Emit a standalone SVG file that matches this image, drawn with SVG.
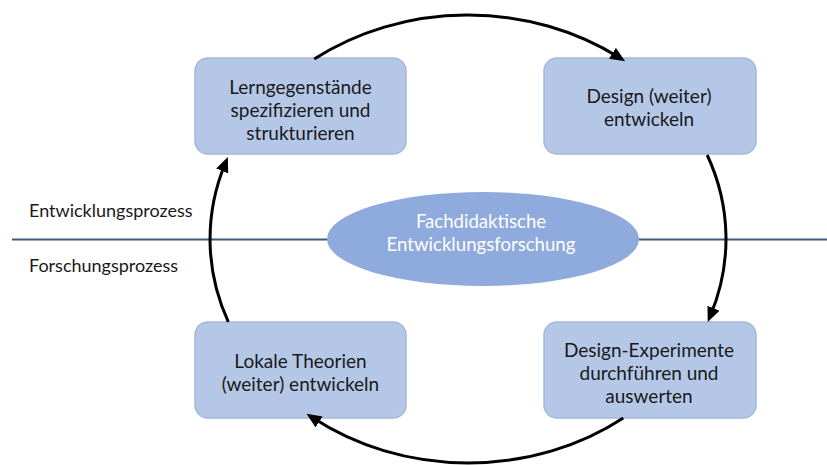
<svg xmlns="http://www.w3.org/2000/svg" width="827" height="465" viewBox="0 0 827 465">
<defs>
<style>
.box{fill:#B4C7E7;stroke:#A5B8DA;stroke-width:1.5}
.t{font-family:Lato,"Liberation Sans",sans-serif;font-size:19px;fill:#1a1a1a;text-anchor:middle}
.lbl{font-family:Lato,"Liberation Sans",sans-serif;font-size:18px;fill:#1a1a1a}
.w{font-family:Lato,"Liberation Sans",sans-serif;font-size:18.6px;fill:#ffffff;text-anchor:middle}
.arc{fill:none;stroke:#000;stroke-width:3}
</style>
<marker id="ah" markerUnits="userSpaceOnUse" markerWidth="16" markerHeight="14" refX="8" refY="6.5" orient="auto">
<path d="M0,0 L15,6.5 L0,13 z" fill="#000"/>
</marker>
</defs>
<rect width="827" height="465" fill="#fff"/>
<line x1="12" y1="239.5" x2="827" y2="239.5" stroke="#44587F" stroke-width="1.8"/>
<g id="labels">
<text class="lbl" x="29" y="217">Entwicklungsprozess</text>
<text class="lbl" x="29" y="272">Forschungsprozess</text>
</g>
<g id="center">
<ellipse cx="483" cy="239" rx="156" ry="47" fill="#8FAADC"/>
<text class="w" x="481" y="228">Fachdidaktische</text>
<text class="w" x="481" y="251">Entwicklungsforschung</text>
</g>
<g id="n1">
<rect class="box" x="195" y="58" width="211" height="96" rx="13"/>
<text class="t" x="300.5" y="94">Lerngegenstände</text>
<text class="t" x="300.5" y="117">spezifizieren und</text>
<text class="t" x="300.5" y="140">strukturieren</text>
</g>
<g id="n2">
<rect class="box" x="544" y="58" width="212" height="96" rx="13"/>
<text class="t" x="649" y="103">Design (weiter)</text>
<text class="t" x="649" y="126">entwickeln</text>
</g>
<g id="n3">
<rect class="box" x="544" y="322" width="212" height="96" rx="13"/>
<text class="t" x="649" y="357">Design-Experimente</text>
<text class="t" x="649" y="380">durchführen und</text>
<text class="t" x="649" y="403">auswerten</text>
</g>
<g id="n4">
<rect class="box" x="195" y="322" width="211" height="96" rx="13"/>
<text class="t" x="300.5" y="368">Lokale Theorien</text>
<text class="t" x="300.5" y="391">(weiter) entwickeln</text>
</g>
<g id="connectors">
<path class="arc" marker-end="url(#ah)" d="M314.2,59.1 A258,224 0 0 1 619.2,57.6"/>
<path class="arc" marker-end="url(#ah)" d="M707.2,155 A258,224 0 0 1 710.4,315.6"/>
<path class="arc" marker-end="url(#ah)" d="M623.3,417.9 A258,224 0 0 1 312.4,417.6"/>
<path class="arc" marker-end="url(#ah)" d="M228.3,321.9 A258,224 0 0 1 225.2,163.5"/>
</g>
</svg>
